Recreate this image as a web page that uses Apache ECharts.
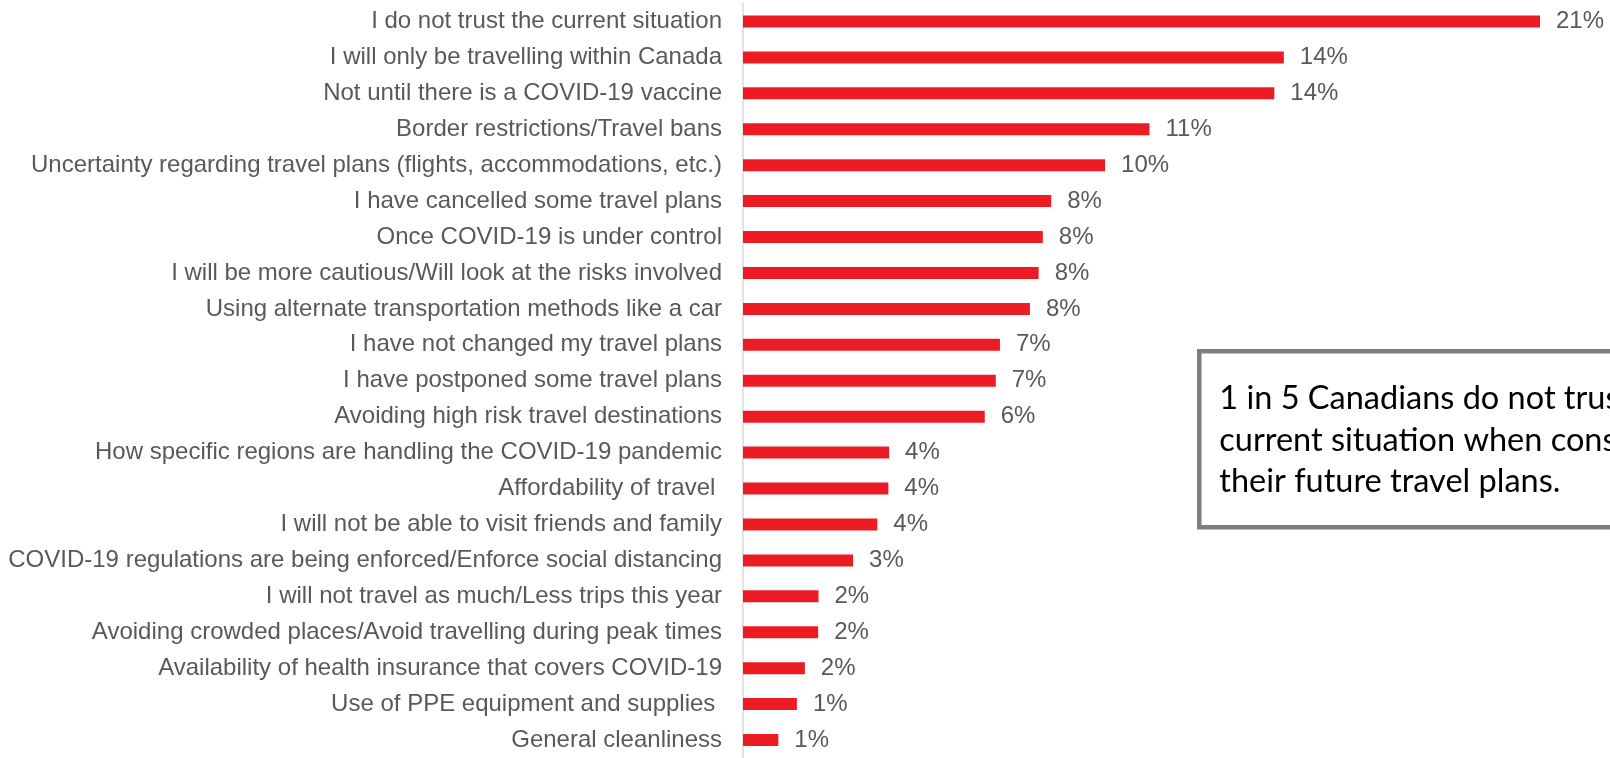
<!DOCTYPE html>
<html>
<head>
<meta charset="utf-8">
<script src="https://cdn.jsdelivr.net/npm/echarts@6/dist/echarts.min.js"></script>
<style>
html,body{margin:0;padding:0;background:#fff;}
#chart{width:1610px;height:758px;}
</style>
</head>
<body>
<div id="chart"></div>
<script>
const categories = [
  "I do not trust the current situation",
  "I will only be travelling within Canada",
  "Not until there is a COVID-19 vaccine",
  "Border restrictions/Travel bans",
  "Uncertainty regarding travel plans (flights, accommodations, etc.)",
  "I have cancelled some travel plans",
  "Once COVID-19 is under control",
  "I will be more cautious/Will look at the risks involved",
  "Using alternate transportation methods like a car",
  "I have not changed my travel plans",
  "I have postponed some travel plans",
  "Avoiding high risk travel destinations",
  "How specific regions are handling the COVID-19 pandemic",
  "Affordability of travel ",
  "I will not be able to visit friends and family",
  "COVID-19 regulations are being enforced/Enforce social distancing",
  "I will not travel as much/Less trips this year",
  "Avoiding crowded places/Avoid travelling during peak times",
  "Availability of health insurance that covers COVID-19",
  "Use of PPE equipment and supplies ",
  "General cleanliness"
];
const values = [21.0, 14.25, 14.0, 10.71, 9.54, 8.12, 7.90, 7.79, 7.56, 6.77, 6.66, 6.37, 3.85, 3.83, 3.54, 2.90, 1.99, 1.98, 1.63, 1.42, 0.93];
const calloutLines = [
  "1 in 5 Canadians do not trust the",
  "current situation when considering",
  "their future travel plans."
];

const chart = echarts.init(document.getElementById('chart'), null, {renderer: 'canvas'});
chart.setOption({
  animation: false,
  backgroundColor: '#ffffff',
  grid: {left: 743, top: 3.5, width: 797, height: 761.4, containLabel: false},
  xAxis: {
    type: 'value', min: 0, max: 21, show: false
  },
  yAxis: {
    type: 'category', data: categories, inverse: true,
    axisLine: {show: true, lineStyle: {color: '#d9d9d9', width: 1.5}},
    axisTick: {show: false},
    axisLabel: {color: '#595959', fontFamily: 'Liberation Sans', fontSize: 24, margin: 21}
  },
  series: [{
    type: 'bar', data: values, barWidth: 12,
    itemStyle: {color: '#ed1c24'},
    label: {
      show: true, position: 'right', distance: 16,
      color: '#595959', fontFamily: 'Liberation Sans', fontSize: 24,
      formatter: p => Math.round(p.value) + '%'
    }
  }],
  graphic: [{
    type: 'group', left: 1197, top: 349,
    children: [
      {type: 'rect', shape: {x: 2, y: 2, width: 520, height: 176},
       style: {fill: '#ffffff', stroke: '#7f7f7f', lineWidth: 4.5}},
      {type: 'text', x: 22, y: 29,
       style: {text: calloutLines.join('\n'), fill: '#000000', font: '32.5px Lato', lineHeight: 41.5}}
    ]
  }]
});
</script>
</body>
</html>
